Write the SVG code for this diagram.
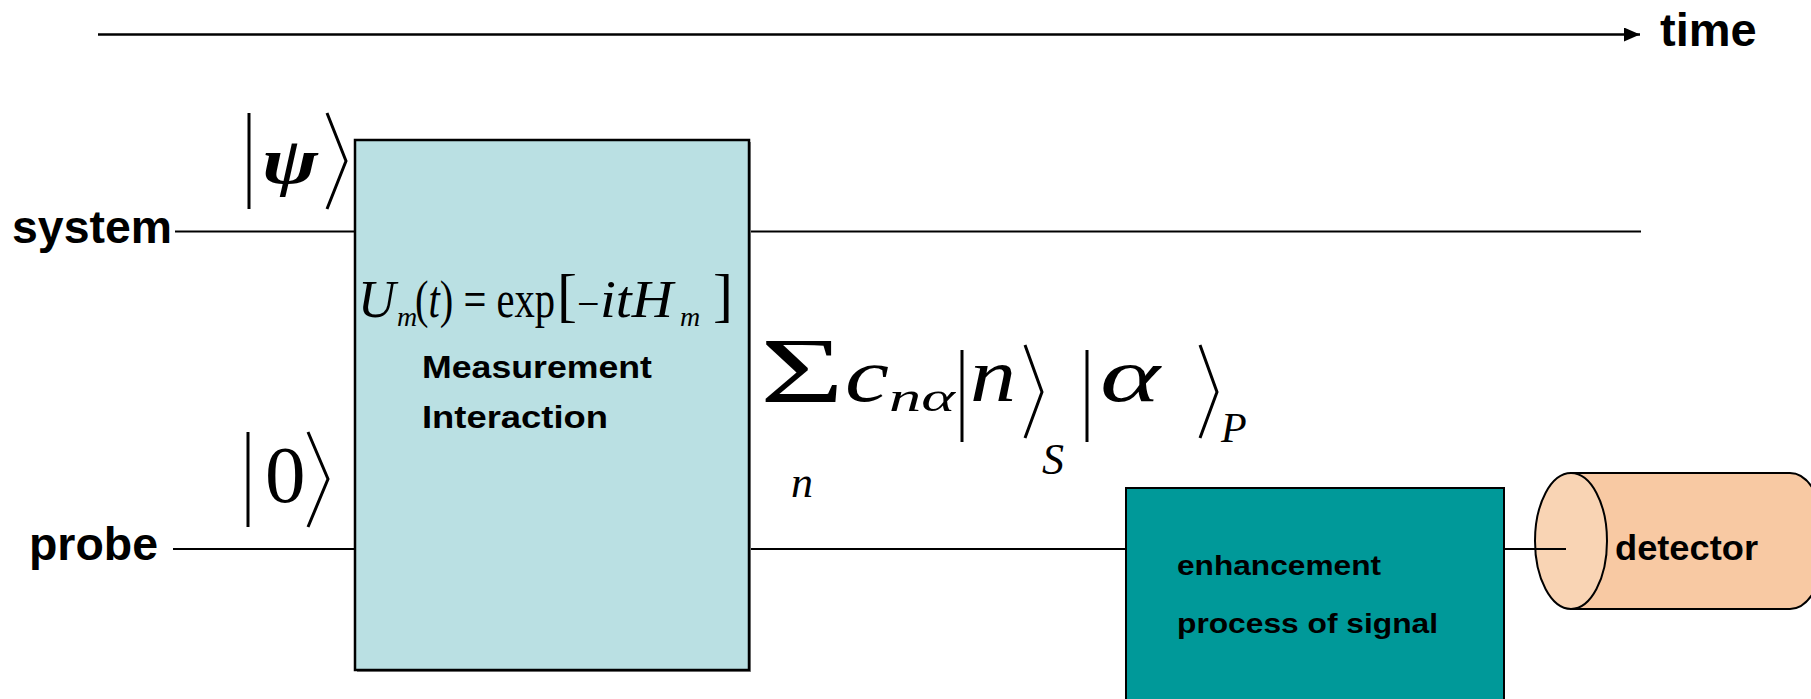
<svg xmlns="http://www.w3.org/2000/svg" width="1811" height="699" viewBox="0 0 1811 699">
<style>
.lbl{font-family:"Liberation Sans",Arial,sans-serif;font-weight:bold;fill:#000}
.m{font-family:"Liberation Serif","Times New Roman",serif;fill:#000}
.i{font-style:italic}
.wire{stroke:#000;stroke-width:2;fill:none}
.delim{stroke:#000;stroke-width:3;fill:none;stroke-linejoin:miter}
</style>
<defs>
<marker id="ah" viewBox="0 0 16 14" refX="16" refY="7" markerWidth="16" markerHeight="14" markerUnits="userSpaceOnUse" orient="auto">
<path d="M0,0 L16,7 L0,14 Z" fill="#000"/>
</marker>
</defs>
<rect width="1811" height="699" fill="#fff"/>

<g id="connectors">
<line x1="98" y1="34.5" x2="1640" y2="34.5" stroke="#000" stroke-width="2.5" marker-end="url(#ah)"/>
<line class="wire" x1="175" y1="231.5" x2="355" y2="231.5"/>
<line class="wire" x1="749" y1="231.5" x2="1641" y2="231.5"/>
<line class="wire" x1="173" y1="549" x2="355" y2="549"/>
<line class="wire" x1="749" y1="549" x2="1126" y2="549"/>
</g>

<g id="time-label">
<text class="lbl" x="1660" y="46" font-size="47">time</text>
</g>

<g id="system-label">
<text class="lbl" x="12" y="243" font-size="46" textLength="160" lengthAdjust="spacingAndGlyphs">system</text>
</g>
<g id="probe-label">
<text class="lbl" x="29" y="560" font-size="46" textLength="129" lengthAdjust="spacingAndGlyphs">probe</text>
</g>

<g id="ket-psi">
<line class="delim" x1="249" y1="113" x2="249" y2="209"/>
<text class="m i" x="262" y="183" font-size="66" font-weight="bold" textLength="56" lengthAdjust="spacingAndGlyphs">ψ</text>
<polyline class="delim" points="327,113 346,161 327,209"/>
</g>

<g id="ket-zero">
<line class="delim" x1="248" y1="432" x2="248" y2="527"/>
<text class="m" x="265" y="502" font-size="81">0</text>
<polyline class="delim" points="308,432 328,479 308,527"/>
</g>

<g id="measurement">
<rect x="357" y="142" width="394" height="530" fill="#888"/>
<rect x="355" y="140" width="394" height="530" fill="#BAE0E3" stroke="#000" stroke-width="2.5"/>
<text class="m i" x="358" y="317" font-size="52">U</text>
<text class="m i" x="397" y="326" font-size="28">m</text>
<text class="m" x="415" y="317" font-size="52" textLength="140" lengthAdjust="spacingAndGlyphs">(<tspan class="i">t</tspan>) = exp</text>
<text class="m" x="557" y="315" font-size="60">[</text>
<text class="m" x="577" y="317" font-size="40">−</text>
<text class="m i" x="600" y="317" font-size="52" textLength="73" lengthAdjust="spacingAndGlyphs">itH</text>
<text class="m i" x="680" y="326" font-size="28">m</text>
<text class="m" x="713" y="315" font-size="60">]</text>
<text class="lbl" x="422" y="378" font-size="31" textLength="230" lengthAdjust="spacingAndGlyphs">Measurement</text>
<text class="lbl" x="422" y="428" font-size="32" textLength="186" lengthAdjust="spacingAndGlyphs">Interaction</text>
</g>

<g id="state-sum">
<text class="m" x="760" y="402" font-size="94" textLength="84" lengthAdjust="spacingAndGlyphs">Σ</text>
<text class="m i" x="791" y="497" font-size="44">n</text>
<text class="m i" x="845" y="401" font-size="76" textLength="44" lengthAdjust="spacingAndGlyphs">c</text>
<text class="m i" x="889" y="411" font-size="42" textLength="66" lengthAdjust="spacingAndGlyphs">nα</text>
<line class="delim" x1="962" y1="350" x2="962" y2="442"/>
<text class="m i" x="970" y="401" font-size="76" textLength="46" lengthAdjust="spacingAndGlyphs">n</text>
<polyline class="delim" points="1025,345 1042,392 1025,438"/>
<text class="m i" x="1042" y="474" font-size="44">S</text>
<line class="delim" x1="1087" y1="350" x2="1087" y2="442"/>
<text class="m i" x="1100" y="401" font-size="76" textLength="60" lengthAdjust="spacingAndGlyphs">α</text>
<polyline class="delim" points="1200,345 1217,392 1200,438"/>
<text class="m i" x="1221" y="442" font-size="42">P</text>
</g>

<g id="enhancement">
<rect x="1126" y="488" width="378" height="230" fill="#009999" stroke="#000" stroke-width="2"/>
<text class="lbl" x="1177" y="575" font-size="28" textLength="204" lengthAdjust="spacingAndGlyphs">enhancement</text>
<text class="lbl" x="1177" y="633" font-size="28" textLength="261" lengthAdjust="spacingAndGlyphs">process of signal</text>
</g>

<g id="detector">
<path d="M1571,473 L1790,473 A36,68 0 0 1 1790,609 L1571,609 Z" fill="#F8C9A3" stroke="#000" stroke-width="2"/>
<ellipse cx="1571" cy="541" rx="36" ry="68" fill="#F9D4B4" stroke="#000" stroke-width="2"/>
<line class="wire" x1="1504" y1="549" x2="1566" y2="549"/>
<text class="lbl" x="1615" y="560" font-size="35" textLength="143" lengthAdjust="spacingAndGlyphs">detector</text>
</g>
</svg>
